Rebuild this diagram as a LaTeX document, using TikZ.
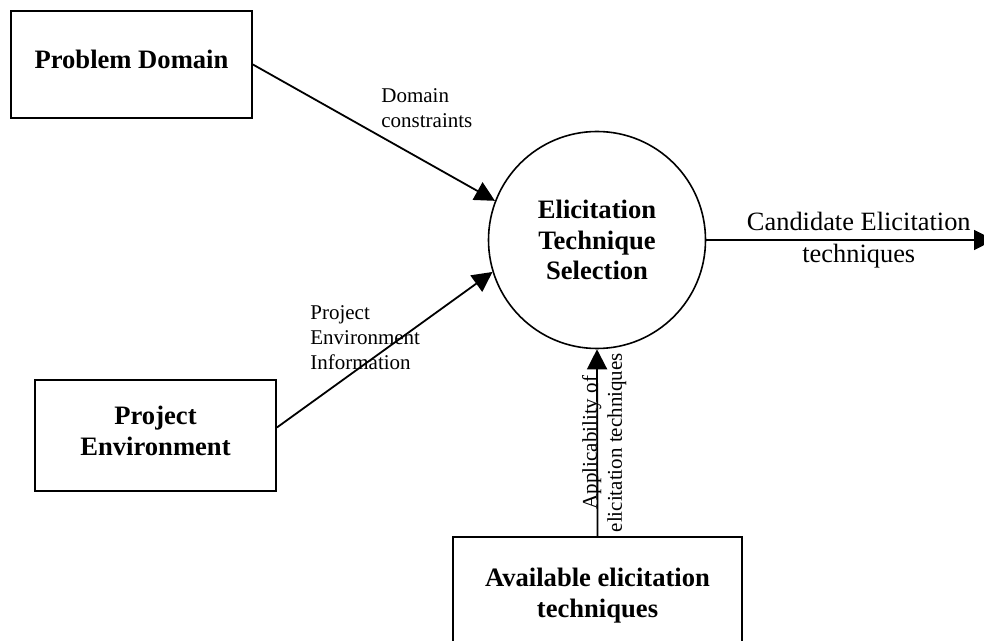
\documentclass[tikz,border=0pt]{standalone}
\usepackage{fontspec}
\setmainfont{Liberation Serif}
\usetikzlibrary{arrows.meta}

\begin{document}
\begin{tikzpicture}[
  x=0.5pt, y=0.5pt,
  box/.style={draw, line width=0.9pt, rectangle, align=center, text depth=5pt,
    font={\fontsize{13.3pt}{15.3pt}\selectfont\bfseries}},
  proc/.style={draw, line width=0.8pt, circle, minimum size=108.5pt, inner sep=0pt,
    align=center, font={\fontsize{13.3pt}{15.3pt}\selectfont\bfseries}},
  flow/.style={line width=0.9pt, -{Triangle[length=10pt,width=10pt]}},
  smalltext/.style={inner sep=0pt, font={\fontsize{10.5pt}{12.5pt}\selectfont}},
  bigtext/.style={inner sep=0pt, align=center, font={\fontsize{13.2pt}{16pt}\selectfont}}
]

  % Marco
  \useasboundingbox (0,0) rectangle (984,-641);
  \clip (0,0) rectangle (984,-641);

  % Entidades externas
  \node[box, minimum width=120.5pt, minimum height=53.5pt]
    (pd) at (131.5,-64.5) {Problem Domain};

  \node[box, minimum width=120.5pt, minimum height=55.5pt]
    (pe) at (155.5,-435.5) {Project\\Environment};

  \node[box, minimum width=144.5pt, minimum height=60.5pt]
    (aet) at (597.5,-597.5) {Available elicitation\\techniques};

  % Proceso
  \node[proc] (ets) at (597,-240)
    {Elicitation\\Technique\\Selection};

  \coordinate (out) at (994,-240);

  % Flujos de entrada
  \draw[flow]
    (pd.east) -- (ets.159);

  \draw[flow]
    ([yshift=4pt]pe.east) -- (ets.197);

  \draw[flow]
    (aet.north) -- (ets.south)
    node[midway, xshift=3.5pt, rotate=90, smalltext, align=center] (aetl)
    {Applicability of\\elicitation techniques};

  % Flujo de salida
  \draw[flow]
    (ets.east) -- (out)
    node[pos=0.53, bigtext] (cetl)
    {Candidate Elicitation\\techniques};

  % Etiquetas
  \node[smalltext, align=left, anchor=north west] (dcl) at (381,-88)
    {Domain\\constraints};

  \node[smalltext, align=left, anchor=north west] (peil) at (310,-305)
    {Project\\Environment\\Information};

\end{tikzpicture}
\end{document}
